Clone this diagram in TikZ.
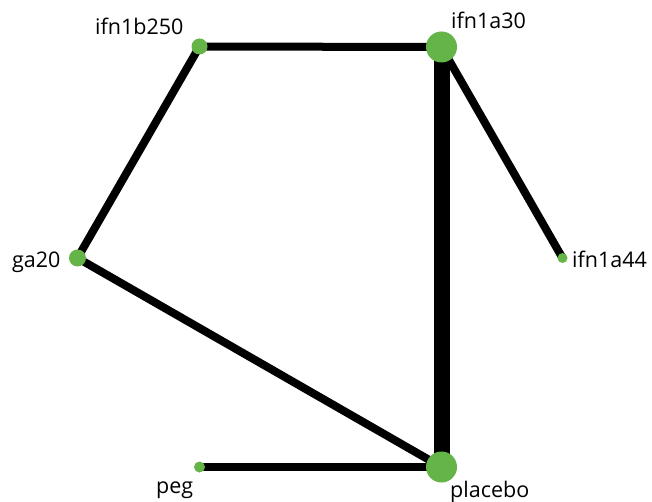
\documentclass[tikz,border=0pt]{standalone}
\usepackage{fontspec}
\setmainfont{Open Sans}
\definecolor{nodegreen}{RGB}{101,180,72}
\begin{document}
\begin{tikzpicture}[x=1pt,y=-1pt,
  dot/.style={circle,fill=nodegreen,draw=none,inner sep=0pt,minimum size=#1},
  edge/.style={line width=8pt,black},
  bigedge/.style={line width=16pt,black},
  lab/.style={anchor=base west,inner sep=0pt,font=\fontsize{21.5}{25}\selectfont}]
\useasboundingbox (0,0) rectangle (652,502);
\coordinate (cb250) at (199.5,46.5);
\coordinate (ca30) at (441.5,47);
\coordinate (ca44) at (562.5,258);
\coordinate (cga) at (77.5,258);
\coordinate (cpeg) at (199.5,467);
\coordinate (cpla) at (441.5,467);
\draw[edge] (cb250) -- (ca30);
\draw[edge] (cb250) -- (cga);
\draw[edge] (ca30) -- (ca44);
\draw[bigedge] (ca30) -- (cpla);
\draw[edge] (cga) -- (cpla);
\draw[edge] (cpeg) -- (cpla);
\node[dot=16pt] (b250) at (cb250) {};
\node[dot=31pt] (a30) at (ca30) {};
\node[dot=10pt] (a44) at (ca44) {};
\node[dot=17pt] (ga) at (cga) {};
\node[dot=11pt] (peg) at (cpeg) {};
\node[dot=31pt] (pla) at (cpla) {};
\node[lab] (lb250) at (95,35) {ifn1b250};
\node[lab] (la30) at (451,28.5) {ifn1a30};
\node[lab] (la44) at (572,267) {ifn1a44};
\node[lab] (lga) at (12,267) {ga20};
\node[lab] (lpeg) at (156,493) {peg};
\node[lab] (lpla) at (450,497) {placebo};
\end{tikzpicture}
\end{document}
